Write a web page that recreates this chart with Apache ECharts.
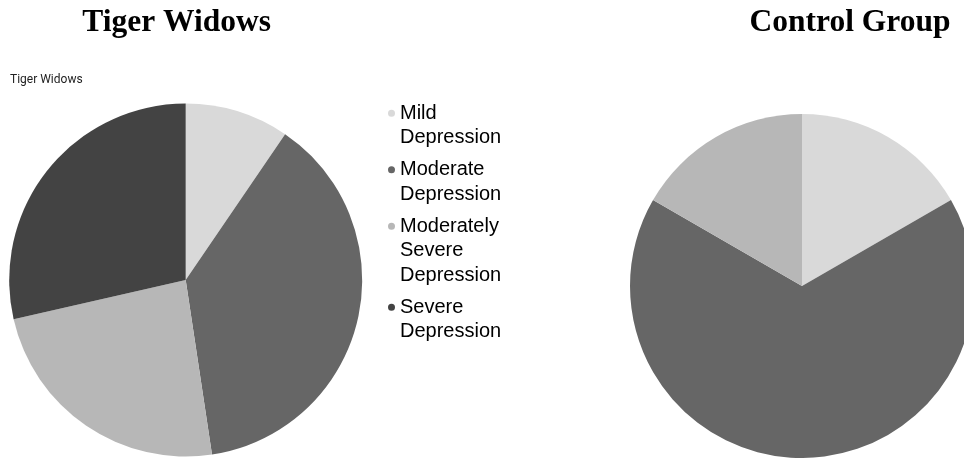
<!DOCTYPE html>
<html>
<head>
<meta charset="utf-8">
<script src="https://cdn.jsdelivr.net/npm/echarts@6/dist/echarts.min.js"></script>
<style>
html,body{margin:0;padding:0;background:#fff;}
#chart{width:964px;height:458px;}
</style>
</head>
<body>
<div id="chart"></div>
<script>
// ---- data ----
var categories = ['Mild Depression', 'Moderate Depression', 'Moderately Severe Depression', 'Severe Depression'];
var tigerWidows = [2, 8, 5, 6];
var controlGroup = [1, 4, 1, 0];
var sliceColors = ['#d9d9d9', '#666666', '#b7b7b7', '#434343'];
var chartTitles = ['Tiger Widows', 'Control Group'];
var innerLabel = 'Tiger Widows';

// ---- build ----
function pieData(values) {
  return categories.map(function (c, i) {
    return { name: c, value: values[i], itemStyle: { color: sliceColors[i] } };
  });
}

var LH = 24.5, GAP = 7.5, FIRST = 113.3, DOT = 7;
// icon: dot at the top of a tall box (degenerate subpaths stretch the box)
function topDotIcon(h) {
  var r = DOT / 2, cyy = LH / 2;
  return 'path://M0,0 L0.01,0 Z ' +
    'M0,' + cyy + ' A' + r + ',' + r + ' 0 1,1 ' + DOT + ',' + cyy +
    ' A' + r + ',' + r + ' 0 1,1 0,' + cyy + ' Z ' +
    'M' + DOT + ',' + h + ' L' + (DOT - 0.01) + ',' + h + ' Z';
}

var legends = [];
var cy = FIRST;
categories.forEach(function (c, i) {
  var n = c.split(' ').length;
  var h = n * LH;
  legends.push({
    data: [{ name: c, icon: topDotIcon(h), itemStyle: { color: sliceColors[i], borderWidth: 0 } }],
    orient: 'vertical',
    left: 388,
    top: cy - LH / 2,
    padding: 0,
    itemWidth: DOT,
    itemHeight: h,
    symbolKeepAspect: true,
    selectedMode: false,
    formatter: function (name) { return name.split(' ').join('\n'); },
    textStyle: {
      fontFamily: '"Liberation Sans", Arial, sans-serif',
      fontSize: 20,
      lineHeight: LH,
      color: '#000'
    }
  });
  cy += n * LH + GAP;
});

var option = {
  animation: false,
  backgroundColor: '#fff',
  legend: legends,
  graphic: [
    { type: 'text', x: 176.7, y: 22.5, silent: true,
      style: { text: chartTitles[0], fontSize: 31.5, fontWeight: 'bold', fontFamily: '"Liberation Serif", "Times New Roman", serif', fill: '#000', align: 'center', verticalAlign: 'middle' } },
    { type: 'text', x: 850, y: 22.5, silent: true,
      style: { text: chartTitles[1], fontSize: 31.5, fontWeight: 'bold', fontFamily: '"Liberation Serif", "Times New Roman", serif', fill: '#000', align: 'center', verticalAlign: 'middle' } },
    { type: 'text', x: 10, y: 79.5, silent: true,
      style: { text: innerLabel, fontSize: 12, fontFamily: 'Roboto, sans-serif', fill: '#222', align: 'left', verticalAlign: 'middle' } }
  ],
  series: [
    {
      type: 'pie',
      name: chartTitles[0],
      center: [185.7, 280],
      radius: 176.5,
      startAngle: 90,
      clockwise: true,
      label: { show: false },
      labelLine: { show: false },
      itemStyle: { borderWidth: 0 },
      emphasis: { disabled: true },
      silent: true,
      data: pieData(tigerWidows)
    },
    {
      type: 'pie',
      name: chartTitles[1],
      center: [802, 286],
      radius: 172,
      startAngle: 90,
      clockwise: true,
      label: { show: false },
      labelLine: { show: false },
      itemStyle: { borderWidth: 0 },
      emphasis: { disabled: true },
      silent: true,
      data: pieData(controlGroup)
    }
  ]
};

var chart = echarts.init(document.getElementById('chart'), null, { renderer: 'canvas' });
chart.setOption(option);
</script>
</body>
</html>
